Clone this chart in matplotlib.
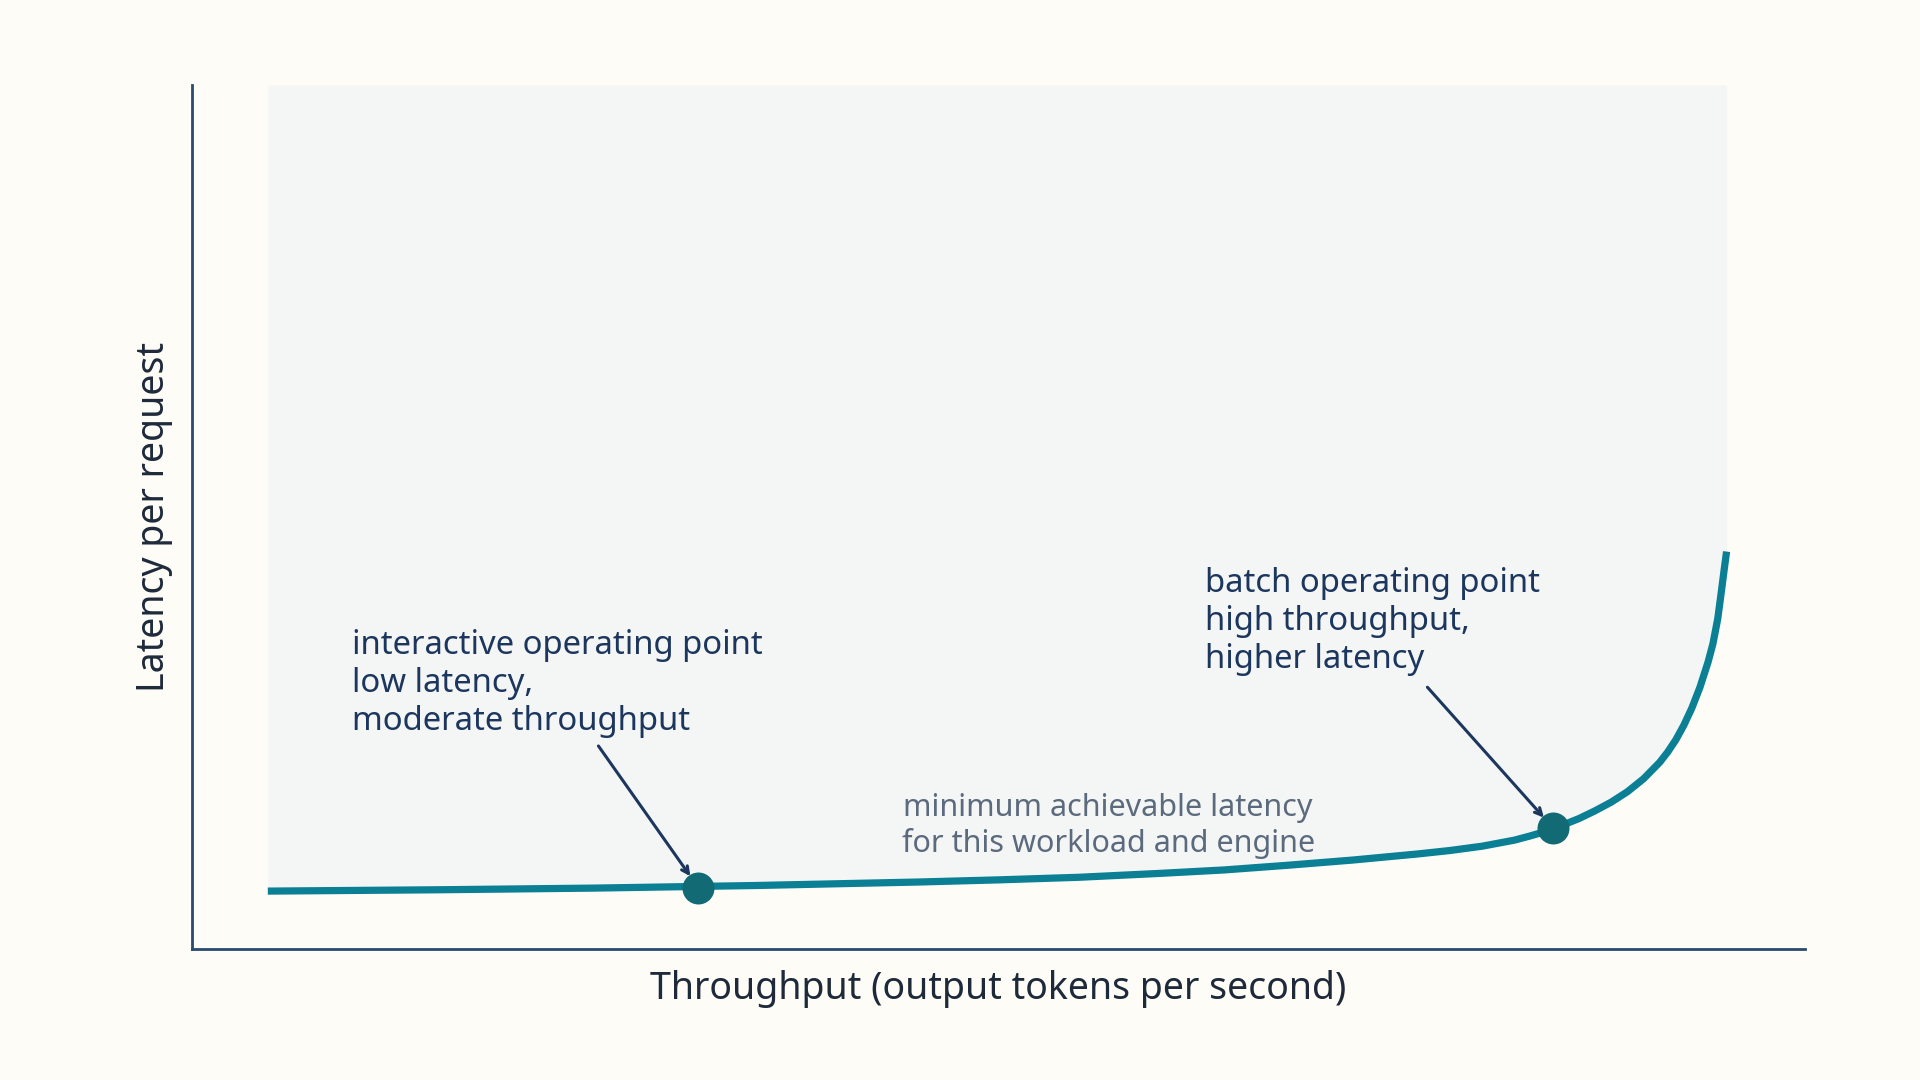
import numpy as np
import matplotlib
matplotlib.use('Agg')
from matplotlib import pyplot as plt

# curve (throughput vs latency, arbitrary units 0-100)
throughput = [4.7, 15, 25, 35, 45, 50, 55, 60, 64, 68, 70, 72, 74, 76, 78,
              80, 82, 83, 84, 85, 86, 87, 88, 89, 90, 91, 91.5, 92, 92.5,
              93, 93.5, 94, 94.3, 94.6, 94.8, 95.0, 95.15]
latency = [6.7, 6.85, 7.05, 7.35, 7.75, 8.0, 8.3, 8.75, 9.15, 9.7, 10.0,
           10.3, 10.65, 11.0, 11.4, 11.9, 12.6, 13.1, 13.65, 14.35, 15.1,
           16.0, 17.0, 18.2, 19.7, 21.6, 22.8, 24.2, 25.9, 27.9, 30.3,
           33.2, 35.3, 38.2, 41.0, 43.9, 46.0]

# operating points
points_x = [31.4, 84.4]
points_y = [7.1, 14.0]
point_labels = ['interactive operating point\nlow latency,\nmoderate throughput',
                'batch operating point\nhigh throughput,\nhigher latency']

floor_label = 'minimum achievable latency\nfor this workload and engine'
xlabel = 'Throughput (output tokens per second)'
ylabel = 'Latency per request'

# colours
bg = '#fdfcf7'
shade = '#f4f6f6'
curve_c = '#0b7f94'
dot_c = '#126a75'
navy = '#1c365e'
spine_c = '#2a4a70'
grey = '#5b6a7c'

plt.rcParams['font.family'] = ['Noto Sans', 'DejaVu Sans']

fig = plt.figure(figsize=(19.2, 10.8), dpi=100)
fig.patch.set_facecolor(bg)
ax = fig.add_axes([0.1, 0.1213, 0.84, 0.80])
ax.set_facecolor(bg)
ax.set_xlim(0, 100)
ax.set_ylim(0, 100)

# region above the frontier
ax.fill_between(throughput, latency, 100, color=shade, lw=0, zorder=1)
ax.plot(throughput, latency, color=curve_c, lw=5.2, solid_capstyle='butt',
        solid_joinstyle='round', zorder=3)
ax.scatter(points_x, points_y, s=530, color=dot_c, zorder=4, lw=0)

# arrows from the labels to the points
arrow = dict(arrowstyle='->,head_length=0.5,head_width=0.25',
             color=navy, lw=2.2, shrinkA=0, shrinkB=10)
ax.annotate('', xy=(points_x[0], points_y[0]), xytext=(25.2, 23.5),
            arrowprops=arrow, zorder=5)
ax.annotate('', xy=(points_x[1], points_y[1]), xytext=(76.6, 30.3),
            arrowprops=arrow, zorder=5)

ax.text(9.9, 37.0, point_labels[0], ha='left', va='top', fontsize=23.7,
        color=navy, linespacing=1.2, zorder=5)
ax.text(62.8, 44.2, point_labels[1], ha='left', va='top', fontsize=23.7,
        color=navy, linespacing=1.2, zorder=5)
ax.text(56.8, 18.0, floor_label, ha='center', va='top', fontsize=22,
        color=grey, linespacing=1.18, zorder=5)

# axes styling
for side in ['top', 'right']:
    ax.spines[side].set_visible(False)
for side in ['left', 'bottom']:
    ax.spines[side].set_color(spine_c)
    ax.spines[side].set_linewidth(2)
ax.set_xticks([])
ax.set_yticks([])
ax.set_xlabel(xlabel, fontsize=27, color='#1e2a3a', labelpad=15)
ax.set_ylabel(ylabel, fontsize=27, color='#1e2a3a', labelpad=14)

plt.savefig('out.png', dpi=100, facecolor=bg)
